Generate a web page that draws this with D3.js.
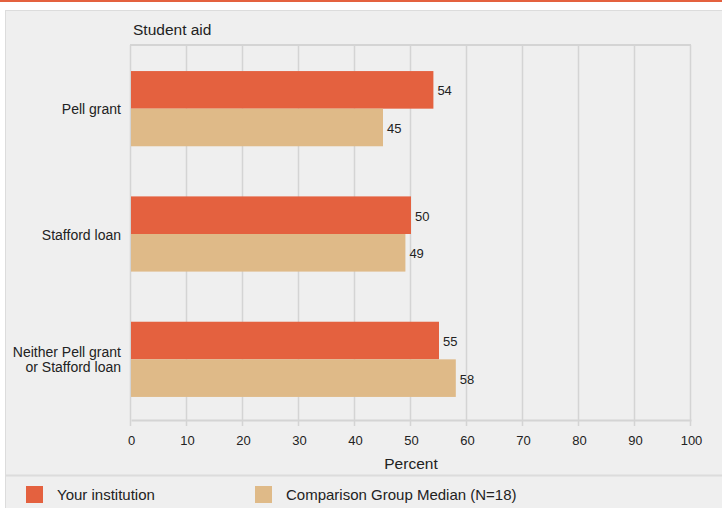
<!DOCTYPE html>
<html>
<head>
<meta charset="utf-8">
<script src="https://cdn.jsdelivr.net/npm/d3@7"></script>
<style>
body { margin: 0; background: #ffffff; }
svg text { font-family: "Liberation Sans", Arial, sans-serif; fill: #222; }
</style>
</head>
<body>
<script>
// Dados do grafico
var categories = ["Pell grant", "Stafford loan", "Neither Pell grant|or Stafford loan"];
var institution = [54, 50, 55];
var comparison = [45, 49, 58];
var xTicks = [0, 10, 20, 30, 40, 50, 60, 70, 80, 90, 100];
var seriesNames = ["Your institution", "Comparison Group Median (N=18)"];
var colors = ["#e4613f", "#dfba88"];

var W = 722, H = 508;
var plot = {left: 131, right: 691, top: 45, bottom: 420};

var svg = d3.select("body").append("svg")
	.attr("width", W)
	.attr("height", H);

// Linha laranja no topo e painel cinza
svg.append("rect").attr("x", 0).attr("y", 0).attr("width", W).attr("height", 2).attr("fill", "#e4613f");
svg.append("rect").attr("x", 5.5).attr("y", 10.5).attr("width", W + 10).attr("height", H)
	.attr("fill", "#efefef").attr("stroke", "#dcdcdc").attr("stroke-width", 1);
svg.append("line").attr("x1", 6).attr("x2", W).attr("y1", 475.5).attr("y2", 475.5)
	.attr("stroke", "#dcdcdc").attr("stroke-width", 2);

// Escalas
var xScale = d3.scaleLinear().domain([0, 100]).range([plot.left, plot.right]);
var yScale = d3.scaleBand().domain(categories).range([plot.top + 1, plot.bottom + 2])
	.paddingInner(0.4).paddingOuter(0.2);

// Grade vertical
svg.append("g").selectAll("line")
	.data(xTicks)
	.enter().append("line")
	.attr("x1", function(d) { return Math.round(xScale(d)) - 0.5; })
	.attr("x2", function(d) { return Math.round(xScale(d)) - 0.5; })
	.attr("y1", plot.top)
	.attr("y2", plot.bottom + 6)
	.attr("stroke", "#d4d4d4")
	.attr("stroke-width", 1.5);
svg.append("line").attr("x1", plot.left - 1).attr("x2", plot.right).attr("y1", plot.top).attr("y2", plot.top)
	.attr("stroke", "#d4d4d4").attr("stroke-width", 2);

// Eixo x
var xAxisGroup = svg.append("g")
	.attr("transform", "translate(0," + plot.bottom + ")");
var xAxis = d3.axisBottom(xScale).tickValues(xTicks).tickSize(0).tickPadding(16);
xAxisGroup.call(xAxis);
xAxisGroup.select(".domain").attr("stroke", "#d4d4d4").attr("stroke-width", 2);
xAxisGroup.selectAll("text").attr("font-size", "13px").attr("fill", "#222")
	.attr("font-family", "Liberation Sans, Arial, sans-serif");

svg.append("text").attr("x", (plot.left + plot.right) / 2).attr("y", 469)
	.attr("text-anchor", "middle").attr("font-size", "15.5px").text("Percent");
svg.append("text").attr("x", 133).attr("y", 35)
	.attr("font-size", "15.5px").text("Student aid");

// Barras
var half = yScale.bandwidth() / 2;
var barGroups = [institution, comparison];
barGroups.forEach(function(vals, s) {
	var g = svg.append("g");
	g.selectAll("rect")
		.data(vals)
		.enter().append("rect")
		.attr("x", xScale(0))
		.attr("y", function(d, i) { return yScale(categories[i]) + s * half; })
		.attr("width", function(d) { return xScale(d) - xScale(0); })
		.attr("height", half)
		.attr("fill", colors[s]);
	g.selectAll("text")
		.data(vals)
		.enter().append("text")
		.attr("x", function(d) { return xScale(d) + 4; })
		.attr("y", function(d, i) { return yScale(categories[i]) + s * half + half / 2 + 5.5; })
		.attr("font-size", "13px")
		.text(function(d) { return d; });
});

// Rotulos das categorias
categories.forEach(function(c) {
	var lines = c.split("|");
	var cy = yScale(c) + half;
	var t = svg.append("text").attr("text-anchor", "end").attr("font-size", "14px");
	lines.forEach(function(l, j) {
		t.append("tspan").attr("x", 121)
			.attr("y", cy + 5.5 + (j - (lines.length - 1) / 2) * 15)
			.text(l);
	});
});

// Legenda
var legX = [26, 255];
seriesNames.forEach(function(n, i) {
	svg.append("rect").attr("x", legX[i]).attr("y", 486).attr("width", 17).attr("height", 17)
		.attr("fill", colors[i]);
	svg.append("text").attr("x", legX[i] + 31).attr("y", 500)
		.attr("font-size", "15px").text(n);
});
</script>
</body>
</html>
